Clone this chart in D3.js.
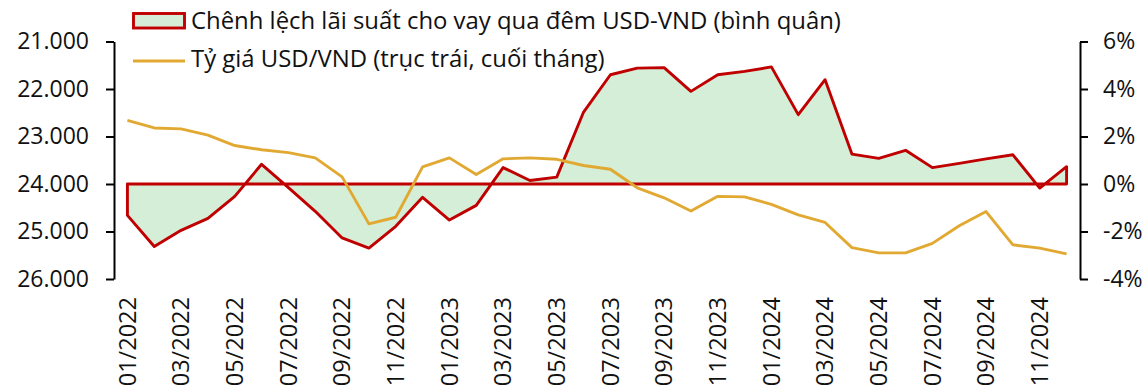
<!DOCTYPE html>
<html>
<head>
<meta charset="utf-8">
<script src="https://cdn.jsdelivr.net/npm/d3@7"></script>
<style>
  html, body { margin: 0; padding: 0; background: #fff; }
  svg { display: block; }
  text { font-family: "Open Sans", "Noto Sans", sans-serif; fill: #111; }
</style>
</head>
<body>
<svg id="chart" width="1148" height="391"></svg>
<script>
// Months, Jan 2022 – Dec 2024
const months = [
  "01/2022","02/2022","03/2022","04/2022","05/2022","06/2022",
  "07/2022","08/2022","09/2022","10/2022","11/2022","12/2022",
  "01/2023","02/2023","03/2023","04/2023","05/2023","06/2023",
  "07/2023","08/2023","09/2023","10/2023","11/2023","12/2023",
  "01/2024","02/2024","03/2024","04/2024","05/2024","06/2024",
  "07/2024","08/2024","09/2024","10/2024","11/2024","12/2024"
];

// Overnight USD-VND lending rate spread, monthly average (%), right axis
const spread = [
  -1.32, -2.63, -1.95, -1.45, -0.52, 0.83,
  -0.15, -1.15, -2.27, -2.70, -1.78, -0.56,
  -1.52, -0.90, 0.69, 0.15, 0.29, 3.03,
  4.60, 4.88, 4.90, 3.90, 4.60, 4.74,
  4.93, 2.92, 4.39, 1.26, 1.08, 1.42,
  0.69, 0.87, 1.06, 1.23, -0.17, 0.73
];

// USD/VND exchange rate, end of month, left axis (inverted)
const usdVnd = [
  22660, 22820, 22840, 22970, 23190, 23280,
  23340, 23450, 23850, 24840, 24700, 23640,
  23450, 23800, 23470, 23450, 23480, 23610,
  23690, 24080, 24290, 24570, 24260, 24270,
  24430, 24650, 24810, 25340, 25450, 25450,
  25250, 24880, 24580, 25280, 25350, 25470
];

const leftTicks = [21000, 22000, 23000, 24000, 25000, 26000];
const rightTicks = [6, 4, 2, 0, -2, -4];
const xLabels = months.filter((m, i) => i % 2 === 0);

const legendLabels = [
  "Chênh lệch lãi suất cho vay qua đêm USD-VND (bình quân)",
  "Tỷ giá USD/VND (trục trái, cuối tháng)"
];

const RED = "#c00000", GREEN = "#d4eed7", GOLD = "#e1a932";

const svg = d3.select("#chart");

const plotLeft = 114, plotRight = 1080, plotTop = 41.5, plotBottom = 279;

const x = d3.scalePoint().domain(months).range([plotLeft, plotRight]).padding(0.5);
const yL = d3.scaleLinear().domain([21000, 26000]).range([plotTop, plotBottom]);
const yR = d3.scaleLinear().domain([6, -4]).range([plotTop, plotBottom]);

const vnLocale = d3.formatLocale({ decimal: ",", thousands: ".", grouping: [3], currency: ["", ""] });
const fmtThousands = vnLocale.format(",");

// Spread area: filled between the value and zero, outlined all round
const area = d3.area()
  .x((d, i) => x(months[i]))
  .y0(yR(0))
  .y1(d => yR(d));

svg.append("path")
  .datum(spread)
  .attr("d", area)
  .attr("fill", GREEN)
  .attr("stroke", RED)
  .attr("stroke-width", 2.9)
  .attr("stroke-linejoin", "round");

// Exchange rate line
const line = d3.line()
  .x((d, i) => x(months[i]))
  .y(d => yL(d));

svg.append("path")
  .datum(usdVnd)
  .attr("d", line)
  .attr("fill", "none")
  .attr("stroke", GOLD)
  .attr("stroke-width", 2.9)
  .attr("stroke-linejoin", "round");

// Left axis
const axL = svg.append("g")
  .attr("transform", `translate(${plotLeft},0)`)
  .call(d3.axisLeft(yL).tickValues(leftTicks).tickSize(8).tickSizeOuter(0)
    .tickPadding(17).tickFormat(fmtThousands));

// Right axis
const axR = svg.append("g")
  .attr("transform", `translate(${plotRight},0)`)
  .call(d3.axisRight(yR).tickValues(rightTicks).tickSize(8).tickSizeOuter(0)
    .tickPadding(15).tickFormat(d => d + "%"));

[axL, axR].forEach(g => {
  g.select(".domain").attr("stroke", "#000").attr("stroke-width", 2);
  g.selectAll(".tick line").attr("stroke", "#000").attr("stroke-width", 2);
  g.selectAll(".tick text")
    .style("font-family", "'Open Sans', sans-serif")
    .style("font-size", "23px")
    .attr("fill", "#111");
});

// Category labels, rotated
svg.append("g")
  .selectAll("text")
  .data(xLabels)
  .join("text")
  .attr("transform", d => `translate(${x(d)},297) rotate(-90)`)
  .attr("text-anchor", "end")
  .attr("dy", "0.35em")
  .style("font-size", "23.5px")
  .text(d => d);

// Legend
const lg = svg.append("g");
lg.append("rect")
  .attr("x", 133.5).attr("y", 13.5).attr("width", 51).attr("height", 14.5)
  .attr("fill", GREEN).attr("stroke", RED).attr("stroke-width", 2.9);
lg.append("line")
  .attr("x1", 133).attr("x2", 185).attr("y1", 61).attr("y2", 61)
  .attr("stroke", GOLD).attr("stroke-width", 2.9);
lg.selectAll("text.lab")
  .data(legendLabels)
  .join("text")
  .attr("class", "lab")
  .attr("x", 191)
  .attr("y", (d, i) => i === 0 ? 28.5 : 66.5)
  .style("font-size", "23.9px")
  .text(d => d);
</script>
</body>
</html>
